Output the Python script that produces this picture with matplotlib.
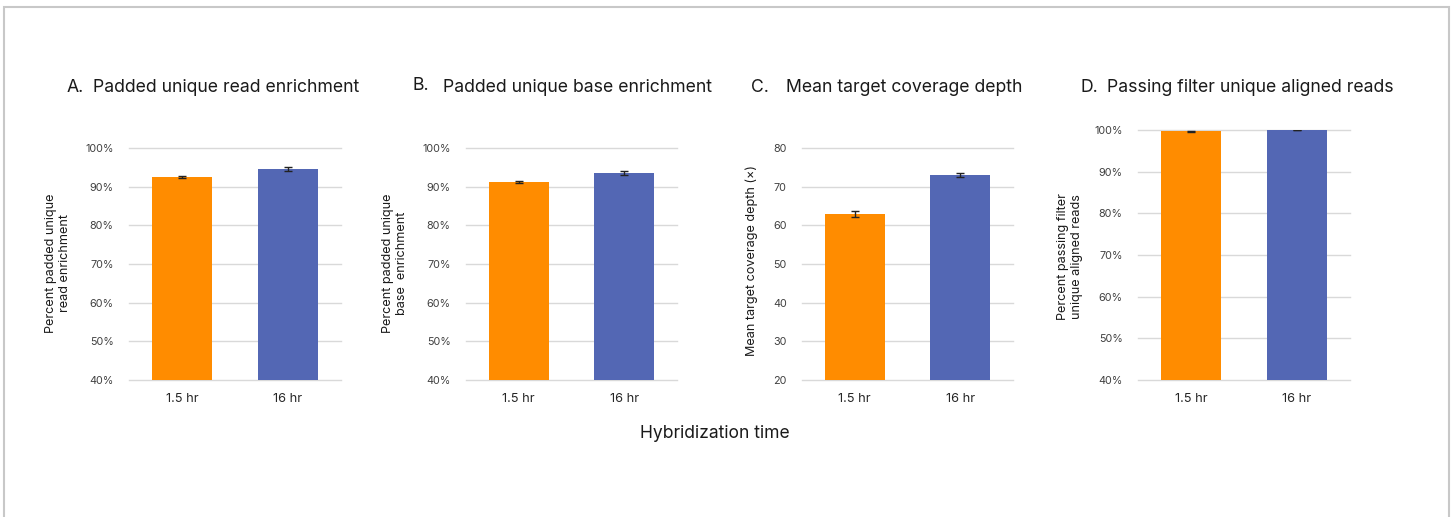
import matplotlib.pyplot as plt
import matplotlib.ticker as ticker
from matplotlib.patches import Rectangle

plt.rcParams["font.family"] = ["Inter", "DejaVu Sans"]

_ORANGE = "#FF8C00"
_BLUE = "#5367B4"
_GRID = "#d9d9d9"
_TICK = "#404040"

categories = ["1.5 hr", "16 hr"]

read_enrich = [92.5, 94.6]
read_enrich_err = [0.15, 0.5]
base_enrich = [91.2, 93.5]
base_enrich_err = [0.2, 0.6]
coverage = [62.9, 73.0]
coverage_err = [0.8, 0.6]
pf_aligned = [99.7, 100.0]
pf_aligned_err = [0.1, 0.1]

W, H = 1453, 517
fig = plt.figure(figsize=(W / 100, H / 100), dpi=100)


def _px(x0, x1, ytop, ybot):
    return [x0 / W, 1 - ybot / H, (x1 - x0) / W, (ybot - ytop) / H]


def _panel(rect, vals, errs, ylim, step, pct):
    ax = fig.add_axes(rect)
    ax.bar(range(len(categories)), vals, width=0.566, color=[_ORANGE, _BLUE],
           yerr=errs, error_kw=dict(ecolor="#222222", elinewidth=1, capsize=3,
                                    capthick=1), zorder=2)
    ax.set_xlim(-0.5, len(categories) - 0.5)
    ax.set_ylim(*ylim)
    ax.yaxis.set_major_locator(ticker.MultipleLocator(step))
    if pct:
        ax.yaxis.set_major_formatter(ticker.FuncFormatter(lambda v, _: f"{v:.0f}%"))
    ax.grid(axis="y", color=_GRID, linewidth=1, zorder=0)
    ax.set_axisbelow(True)
    for s in ax.spines.values():
        s.set_visible(False)
    ax.set_xticks(range(len(categories)))
    ax.set_xticklabels(categories)
    ax.tick_params(axis="y", length=0, pad=11, labelsize=7.8, labelcolor=_TICK)
    ax.tick_params(axis="x", length=0, pad=9, labelsize=9.2, labelcolor="#262626")
    for gl in ax.get_ygridlines():
        gl.set_clip_on(False)
    return ax


_panel(_px(129, 341, 148, 380), read_enrich, read_enrich_err, (40, 100), 10, True)
_panel(_px(466, 677, 148, 380), base_enrich, base_enrich_err, (40, 100), 10, True)
_panel(_px(802, 1013, 148, 380), coverage, coverage_err, (20, 80), 10, False)
_panel(_px(1138, 1350, 130, 380), pf_aligned, pf_aligned_err, (40, 100), 10, True)

# panel titles
titles = [
    (67, 93, 88, 88, "A.", "Padded unique read enrichment"),
    (413, 443, 86, 88, "B.", "Padded unique base enrichment"),
    (751, 786, 88, 88, "C.", "Mean target coverage depth"),
    (1081, 1107, 88, 88, "D.", "Passing filter unique aligned reads"),
]
for xl, xt, yl, yt, letter, title in titles:
    fig.text(xl / W, 1 - yl / H, letter, fontsize=12.7, color="#1a1a1a",
             ha="left", va="center")
    fig.text(xt / W, 1 - yt / H, title, fontsize=12.7, color="#1a1a1a",
             ha="left", va="center")

# y labels
ylabels = [
    (58, 263, "Percent padded unique\nread enrichment"),
    (395, 263, "Percent padded unique\nbase  enrichment"),
    (752, 260, "Mean target coverage depth (\u00d7)"),
    (1070, 257, "Percent passing filter\nunique aligned reads"),
]
for x, y, txt in ylabels:
    fig.text(x / W, 1 - y / H, txt, rotation=90, fontsize=9.1, color="#1a1a1a",
             ha="center", va="center", multialignment="center", linespacing=1.15)

fig.text(715 / W, 1 - 434 / H, "Hybridization time", fontsize=12.6,
         color="#1a1a1a", ha="center", va="center")

fig.add_artist(Rectangle((4 / W, -0.05), (1449 - 4) / W, 1.05 - 7 / H,
                         transform=fig.transFigure, fill=False,
                         edgecolor="#c8c8c8", linewidth=1.5))

fig.savefig("out.png", dpi=100)
